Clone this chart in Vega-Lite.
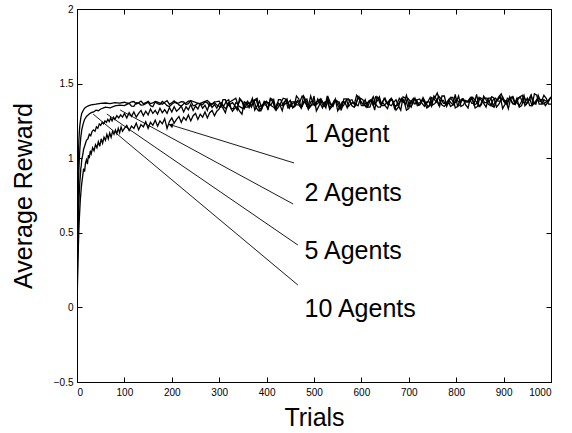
{
"$schema":"https://vega.github.io/schema/vega-lite/v6.json",
"width":474,"height":373,
"autosize":{"type":"none"},
"padding":{"left":77,"top":9,"right":21,"bottom":51},
"background":"white",
"config":{"view":{"stroke":"black","strokeWidth":1},"font":"Liberation Sans",
"axis":{"grid":false,"domainColor":"black","tickColor":"black","labelColor":"black","titleColor":"black","labelFontSize":10,"titleFontSize":25,"titleFontWeight":"normal","tickSize":-5,"domainWidth":1,"tickWidth":1}},
"datasets":{
"curves":[
{"a":"10","t":0,"r":0},{"a":"10","t":1,"r":0.5},{"a":"10","t":2,"r":0.85},{"a":"10","t":3,"r":1.02},{"a":"10","t":4,"r":1.12},{"a":"10","t":5,"r":1.18},{"a":"10","t":6,"r":1.22},{"a":"10","t":8,"r":1.27},{"a":"10","t":10,"r":1.3},{"a":"10","t":13,"r":1.32},{"a":"10","t":16,"r":1.335},{"a":"10","t":20,"r":1.345},{"a":"10","t":25,"r":1.352},{"a":"10","t":30,"r":1.358},{"a":"10","t":40,"r":1.362},{"a":"10","t":50,"r":1.368},{"a":"10","t":60,"r":1.37},{"a":"10","t":70,"r":1.366},{"a":"10","t":80,"r":1.372},{"a":"10","t":90,"r":1.369},
{"a":"10","t":100,"r":1.375},{"a":"10","t":110,"r":1.368},{"a":"10","t":120,"r":1.38},{"a":"10","t":130,"r":1.371},{"a":"10","t":140,"r":1.365},{"a":"10","t":150,"r":1.382},{"a":"10","t":160,"r":1.37},{"a":"10","t":170,"r":1.376},{"a":"10","t":180,"r":1.362},{"a":"10","t":190,"r":1.385},{"a":"10","t":200,"r":1.372},{"a":"10","t":210,"r":1.368},{"a":"10","t":220,"r":1.379},{"a":"10","t":230,"r":1.36},{"a":"10","t":240,"r":1.386},{"a":"10","t":250,"r":1.374},{"a":"10","t":260,"r":1.366},{"a":"10","t":270,"r":1.381},{"a":"10","t":280,"r":1.37},{"a":"10","t":290,"r":1.377},
{"a":"10","t":105,"r":1.37},{"a":"10","t":115,"r":1.378},{"a":"10","t":125,"r":1.364},{"a":"10","t":135,"r":1.383},{"a":"10","t":145,"r":1.372},{"a":"10","t":155,"r":1.366},{"a":"10","t":165,"r":1.38},{"a":"10","t":175,"r":1.369},{"a":"10","t":185,"r":1.375},{"a":"10","t":195,"r":1.361},{"a":"10","t":205,"r":1.384},{"a":"10","t":215,"r":1.371},{"a":"10","t":225,"r":1.377},{"a":"10","t":235,"r":1.365},{"a":"10","t":245,"r":1.38},{"a":"10","t":255,"r":1.368},{"a":"10","t":265,"r":1.374},{"a":"10","t":275,"r":1.386},{"a":"10","t":285,"r":1.363},{"a":"10","t":295,"r":1.379},
{"a":"10","t":300,"r":1.382},{"a":"10","t":310,"r":1.352},{"a":"10","t":320,"r":1.392},{"a":"10","t":330,"r":1.332},{"a":"10","t":340,"r":1.362},{"a":"10","t":350,"r":1.372},{"a":"10","t":360,"r":1.342},{"a":"10","t":370,"r":1.402},{"a":"10","t":380,"r":1.352},{"a":"10","t":390,"r":1.332},{"a":"10","t":400,"r":1.382},{"a":"10","t":410,"r":1.362},{"a":"10","t":420,"r":1.322},{"a":"10","t":430,"r":1.372},{"a":"10","t":440,"r":1.397},{"a":"10","t":450,"r":1.347},{"a":"10","t":460,"r":1.377},{"a":"10","t":470,"r":1.357},{"a":"10","t":480,"r":1.387},{"a":"10","t":490,"r":1.337},{"a":"10","t":500,"r":1.417},{"a":"10","t":510,"r":1.347},{"a":"10","t":520,"r":1.367},{"a":"10","t":530,"r":1.387},{"a":"10","t":540,"r":1.357},{"a":"10","t":550,"r":1.317},{"a":"10","t":560,"r":1.377},{"a":"10","t":570,"r":1.397},{"a":"10","t":580,"r":1.352},{"a":"10","t":590,"r":1.382},{"a":"10","t":600,"r":1.372},{"a":"10","t":610,"r":1.342},{"a":"10","t":620,"r":1.392},{"a":"10","t":630,"r":1.412},{"a":"10","t":640,"r":1.362},{"a":"10","t":650,"r":1.352},{"a":"10","t":660,"r":1.382},{"a":"10","t":670,"r":1.332},{"a":"10","t":680,"r":1.402},{"a":"10","t":690,"r":1.372},{"a":"10","t":700,"r":1.362},{"a":"10","t":710,"r":1.392},{"a":"10","t":720,"r":1.357},{"a":"10","t":730,"r":1.407},{"a":"10","t":740,"r":1.347},{"a":"10","t":750,"r":1.387},{"a":"10","t":760,"r":1.437},{"a":"10","t":770,"r":1.357},{"a":"10","t":780,"r":1.367},{"a":"10","t":790,"r":1.397},{"a":"10","t":800,"r":1.377},{"a":"10","t":810,"r":1.347},{"a":"10","t":820,"r":1.387},{"a":"10","t":830,"r":1.397},{"a":"10","t":840,"r":1.337},{"a":"10","t":850,"r":1.407},{"a":"10","t":860,"r":1.372},{"a":"10","t":870,"r":1.382},{"a":"10","t":880,"r":1.402},{"a":"10","t":890,"r":1.362},{"a":"10","t":900,"r":1.392},{"a":"10","t":910,"r":1.332},{"a":"10","t":920,"r":1.412},{"a":"10","t":930,"r":1.392},{"a":"10","t":940,"r":1.372},{"a":"10","t":950,"r":1.402},{"a":"10","t":960,"r":1.352},{"a":"10","t":970,"r":1.422},{"a":"10","t":980,"r":1.362},{"a":"10","t":990,"r":1.382},{"a":"10","t":1000,"r":1.412},
{"a":"10","t":305,"r":1.352},{"a":"10","t":315,"r":1.382},{"a":"10","t":325,"r":1.332},{"a":"10","t":335,"r":1.372},{"a":"10","t":345,"r":1.392},{"a":"10","t":355,"r":1.342},{"a":"10","t":365,"r":1.362},{"a":"10","t":375,"r":1.322},{"a":"10","t":385,"r":1.382},{"a":"10","t":395,"r":1.372},{"a":"10","t":405,"r":1.352},{"a":"10","t":415,"r":1.392},{"a":"10","t":425,"r":1.342},{"a":"10","t":435,"r":1.402},{"a":"10","t":445,"r":1.337},{"a":"10","t":455,"r":1.367},{"a":"10","t":465,"r":1.377},{"a":"10","t":475,"r":1.347},{"a":"10","t":485,"r":1.397},{"a":"10","t":495,"r":1.357},{"a":"10","t":505,"r":1.317},{"a":"10","t":515,"r":1.387},{"a":"10","t":525,"r":1.377},{"a":"10","t":535,"r":1.357},{"a":"10","t":545,"r":1.397},{"a":"10","t":555,"r":1.347},{"a":"10","t":565,"r":1.367},{"a":"10","t":575,"r":1.387},{"a":"10","t":585,"r":1.342},{"a":"10","t":595,"r":1.412},{"a":"10","t":605,"r":1.362},{"a":"10","t":615,"r":1.382},{"a":"10","t":625,"r":1.352},{"a":"10","t":635,"r":1.402},{"a":"10","t":645,"r":1.372},{"a":"10","t":655,"r":1.332},{"a":"10","t":665,"r":1.392},{"a":"10","t":675,"r":1.362},{"a":"10","t":685,"r":1.382},{"a":"10","t":695,"r":1.422},{"a":"10","t":705,"r":1.342},{"a":"10","t":715,"r":1.392},{"a":"10","t":725,"r":1.367},{"a":"10","t":735,"r":1.377},{"a":"10","t":745,"r":1.357},{"a":"10","t":755,"r":1.407},{"a":"10","t":765,"r":1.387},{"a":"10","t":775,"r":1.347},{"a":"10","t":785,"r":1.397},{"a":"10","t":795,"r":1.367},{"a":"10","t":805,"r":1.417},{"a":"10","t":815,"r":1.357},{"a":"10","t":825,"r":1.377},{"a":"10","t":835,"r":1.387},{"a":"10","t":845,"r":1.347},{"a":"10","t":855,"r":1.397},{"a":"10","t":865,"r":1.372},{"a":"10","t":875,"r":1.412},{"a":"10","t":885,"r":1.342},{"a":"10","t":895,"r":1.392},{"a":"10","t":905,"r":1.382},{"a":"10","t":915,"r":1.402},{"a":"10","t":925,"r":1.362},{"a":"10","t":935,"r":1.412},{"a":"10","t":945,"r":1.372},{"a":"10","t":955,"r":1.352},{"a":"10","t":965,"r":1.432},{"a":"10","t":975,"r":1.362},{"a":"10","t":985,"r":1.392},{"a":"10","t":995,"r":1.382},
{"a":"5","t":0,"r":0},{"a":"5","t":1,"r":0.35},{"a":"5","t":2,"r":0.62},{"a":"5","t":3,"r":0.8},{"a":"5","t":4,"r":0.92},{"a":"5","t":5,"r":1.0},{"a":"5","t":6,"r":1.06},{"a":"5","t":8,"r":1.14},{"a":"5","t":10,"r":1.19},{"a":"5","t":13,"r":1.23},{"a":"5","t":16,"r":1.26},{"a":"5","t":20,"r":1.28},{"a":"5","t":25,"r":1.295},{"a":"5","t":30,"r":1.305},{"a":"5","t":35,"r":1.31},{"a":"5","t":40,"r":1.322},{"a":"5","t":45,"r":1.318},{"a":"5","t":50,"r":1.33},{"a":"5","t":55,"r":1.335},{"a":"5","t":60,"r":1.342},{"a":"5","t":70,"r":1.338},{"a":"5","t":80,"r":1.35},{"a":"5","t":90,"r":1.356},
{"a":"5","t":100,"r":1.352},{"a":"5","t":110,"r":1.368},{"a":"5","t":120,"r":1.347},{"a":"5","t":130,"r":1.37},{"a":"5","t":140,"r":1.358},{"a":"5","t":150,"r":1.375},{"a":"5","t":160,"r":1.345},{"a":"5","t":170,"r":1.366},{"a":"5","t":180,"r":1.38},{"a":"5","t":190,"r":1.352},{"a":"5","t":200,"r":1.362},{"a":"5","t":210,"r":1.374},{"a":"5","t":220,"r":1.348},{"a":"5","t":230,"r":1.37},{"a":"5","t":240,"r":1.384},{"a":"5","t":250,"r":1.355},{"a":"5","t":260,"r":1.366},{"a":"5","t":270,"r":1.378},{"a":"5","t":280,"r":1.35},{"a":"5","t":290,"r":1.372},
{"a":"5","t":105,"r":1.361},{"a":"5","t":115,"r":1.349},{"a":"5","t":125,"r":1.372},{"a":"5","t":135,"r":1.356},{"a":"5","t":145,"r":1.366},{"a":"5","t":155,"r":1.352},{"a":"5","t":165,"r":1.377},{"a":"5","t":175,"r":1.36},{"a":"5","t":185,"r":1.369},{"a":"5","t":195,"r":1.346},{"a":"5","t":205,"r":1.373},{"a":"5","t":215,"r":1.357},{"a":"5","t":225,"r":1.365},{"a":"5","t":235,"r":1.382},{"a":"5","t":245,"r":1.351},{"a":"5","t":255,"r":1.368},{"a":"5","t":265,"r":1.359},{"a":"5","t":275,"r":1.371},{"a":"5","t":285,"r":1.362},{"a":"5","t":295,"r":1.356},
{"a":"5","t":303,"r":1.342},{"a":"5","t":313,"r":1.392},{"a":"5","t":323,"r":1.362},{"a":"5","t":333,"r":1.352},{"a":"5","t":343,"r":1.402},{"a":"5","t":353,"r":1.332},{"a":"5","t":363,"r":1.372},{"a":"5","t":373,"r":1.382},{"a":"5","t":383,"r":1.342},{"a":"5","t":393,"r":1.362},{"a":"5","t":403,"r":1.322},{"a":"5","t":413,"r":1.392},{"a":"5","t":423,"r":1.372},{"a":"5","t":433,"r":1.352},{"a":"5","t":443,"r":1.387},{"a":"5","t":453,"r":1.347},{"a":"5","t":463,"r":1.417},{"a":"5","t":473,"r":1.337},{"a":"5","t":483,"r":1.367},{"a":"5","t":493,"r":1.377},{"a":"5","t":503,"r":1.357},{"a":"5","t":513,"r":1.397},{"a":"5","t":523,"r":1.347},{"a":"5","t":533,"r":1.327},{"a":"5","t":543,"r":1.387},{"a":"5","t":553,"r":1.377},{"a":"5","t":563,"r":1.357},{"a":"5","t":573,"r":1.397},{"a":"5","t":583,"r":1.372},{"a":"5","t":593,"r":1.352},{"a":"5","t":603,"r":1.392},{"a":"5","t":613,"r":1.342},{"a":"5","t":623,"r":1.382},{"a":"5","t":633,"r":1.412},{"a":"5","t":643,"r":1.362},{"a":"5","t":653,"r":1.372},{"a":"5","t":663,"r":1.352},{"a":"5","t":673,"r":1.392},{"a":"5","t":683,"r":1.322},{"a":"5","t":693,"r":1.402},{"a":"5","t":703,"r":1.382},{"a":"5","t":713,"r":1.362},{"a":"5","t":723,"r":1.397},{"a":"5","t":733,"r":1.347},{"a":"5","t":743,"r":1.377},{"a":"5","t":753,"r":1.417},{"a":"5","t":763,"r":1.357},{"a":"5","t":773,"r":1.387},{"a":"5","t":783,"r":1.367},{"a":"5","t":793,"r":1.407},{"a":"5","t":803,"r":1.347},{"a":"5","t":813,"r":1.397},{"a":"5","t":823,"r":1.377},{"a":"5","t":833,"r":1.367},{"a":"5","t":843,"r":1.427},{"a":"5","t":853,"r":1.357},{"a":"5","t":863,"r":1.392},{"a":"5","t":873,"r":1.352},{"a":"5","t":883,"r":1.402},{"a":"5","t":893,"r":1.382},{"a":"5","t":903,"r":1.372},{"a":"5","t":913,"r":1.412},{"a":"5","t":923,"r":1.362},{"a":"5","t":933,"r":1.342},{"a":"5","t":943,"r":1.402},{"a":"5","t":953,"r":1.392},{"a":"5","t":963,"r":1.372},{"a":"5","t":973,"r":1.422},{"a":"5","t":983,"r":1.362},{"a":"5","t":993,"r":1.382},{"a":"5","t":1000,"r":1.402},
{"a":"5","t":308,"r":1.392},{"a":"5","t":318,"r":1.352},{"a":"5","t":328,"r":1.372},{"a":"5","t":338,"r":1.322},{"a":"5","t":348,"r":1.382},{"a":"5","t":358,"r":1.362},{"a":"5","t":368,"r":1.342},{"a":"5","t":378,"r":1.392},{"a":"5","t":388,"r":1.352},{"a":"5","t":398,"r":1.372},{"a":"5","t":408,"r":1.402},{"a":"5","t":418,"r":1.332},{"a":"5","t":428,"r":1.362},{"a":"5","t":438,"r":1.382},{"a":"5","t":448,"r":1.357},{"a":"5","t":458,"r":1.347},{"a":"5","t":468,"r":1.397},{"a":"5","t":478,"r":1.377},{"a":"5","t":488,"r":1.327},{"a":"5","t":498,"r":1.387},{"a":"5","t":508,"r":1.367},{"a":"5","t":518,"r":1.357},{"a":"5","t":528,"r":1.417},{"a":"5","t":538,"r":1.347},{"a":"5","t":548,"r":1.377},{"a":"5","t":558,"r":1.337},{"a":"5","t":568,"r":1.387},{"a":"5","t":578,"r":1.367},{"a":"5","t":588,"r":1.362},{"a":"5","t":598,"r":1.402},{"a":"5","t":608,"r":1.352},{"a":"5","t":618,"r":1.382},{"a":"5","t":628,"r":1.322},{"a":"5","t":638,"r":1.392},{"a":"5","t":648,"r":1.402},{"a":"5","t":658,"r":1.362},{"a":"5","t":668,"r":1.372},{"a":"5","t":678,"r":1.352},{"a":"5","t":688,"r":1.412},{"a":"5","t":698,"r":1.342},{"a":"5","t":708,"r":1.382},{"a":"5","t":718,"r":1.392},{"a":"5","t":728,"r":1.367},{"a":"5","t":738,"r":1.377},{"a":"5","t":748,"r":1.347},{"a":"5","t":758,"r":1.397},{"a":"5","t":768,"r":1.387},{"a":"5","t":778,"r":1.357},{"a":"5","t":788,"r":1.407},{"a":"5","t":798,"r":1.337},{"a":"5","t":808,"r":1.387},{"a":"5","t":818,"r":1.377},{"a":"5","t":828,"r":1.397},{"a":"5","t":838,"r":1.367},{"a":"5","t":848,"r":1.347},{"a":"5","t":858,"r":1.417},{"a":"5","t":868,"r":1.362},{"a":"5","t":878,"r":1.392},{"a":"5","t":888,"r":1.382},{"a":"5","t":898,"r":1.412},{"a":"5","t":908,"r":1.362},{"a":"5","t":918,"r":1.372},{"a":"5","t":928,"r":1.402},{"a":"5","t":938,"r":1.352},{"a":"5","t":948,"r":1.392},{"a":"5","t":958,"r":1.422},{"a":"5","t":968,"r":1.362},{"a":"5","t":978,"r":1.382},{"a":"5","t":988,"r":1.372},{"a":"5","t":998,"r":1.402},
{"a":"2","t":0,"r":0},{"a":"2","t":1,"r":0.25},{"a":"2","t":2,"r":0.45},{"a":"2","t":3,"r":0.6},{"a":"2","t":4,"r":0.7},{"a":"2","t":5,"r":0.78},{"a":"2","t":6,"r":0.84},{"a":"2","t":7,"r":0.88},{"a":"2","t":8,"r":0.93},{"a":"2","t":9,"r":0.95},{"a":"2","t":10,"r":0.99},{"a":"2","t":12,"r":1.02},{"a":"2","t":14,"r":1.06},{"a":"2","t":16,"r":1.08},{"a":"2","t":18,"r":1.1},{"a":"2","t":20,"r":1.12},{"a":"2","t":23,"r":1.13},{"a":"2","t":26,"r":1.16},{"a":"2","t":29,"r":1.15},{"a":"2","t":32,"r":1.18},{"a":"2","t":35,"r":1.19},{"a":"2","t":38,"r":1.18},{"a":"2","t":41,"r":1.21},{"a":"2","t":44,"r":1.2},{"a":"2","t":47,"r":1.23},{"a":"2","t":50,"r":1.22},{"a":"2","t":53,"r":1.24},{"a":"2","t":56,"r":1.23},{"a":"2","t":59,"r":1.25},{"a":"2","t":62,"r":1.24},{"a":"2","t":65,"r":1.26},{"a":"2","t":68,"r":1.245},{"a":"2","t":71,"r":1.27},{"a":"2","t":74,"r":1.25},{"a":"2","t":77,"r":1.275},{"a":"2","t":80,"r":1.26},{"a":"2","t":84,"r":1.285},{"a":"2","t":88,"r":1.27},{"a":"2","t":92,"r":1.29},{"a":"2","t":96,"r":1.275},{"a":"2","t":100,"r":1.3},
{"a":"2","t":105,"r":1.27},{"a":"2","t":110,"r":1.305},{"a":"2","t":115,"r":1.28},{"a":"2","t":120,"r":1.31},{"a":"2","t":125,"r":1.275},{"a":"2","t":130,"r":1.3},{"a":"2","t":135,"r":1.32},{"a":"2","t":140,"r":1.285},{"a":"2","t":145,"r":1.315},{"a":"2","t":150,"r":1.29},{"a":"2","t":155,"r":1.33},{"a":"2","t":160,"r":1.3},{"a":"2","t":165,"r":1.32},{"a":"2","t":170,"r":1.295},{"a":"2","t":175,"r":1.335},{"a":"2","t":180,"r":1.305},{"a":"2","t":185,"r":1.325},{"a":"2","t":190,"r":1.3},{"a":"2","t":195,"r":1.34},{"a":"2","t":200,"r":1.31},{"a":"2","t":205,"r":1.345},{"a":"2","t":210,"r":1.315},{"a":"2","t":215,"r":1.33},{"a":"2","t":220,"r":1.35},{"a":"2","t":225,"r":1.31},{"a":"2","t":230,"r":1.345},{"a":"2","t":235,"r":1.325},{"a":"2","t":240,"r":1.36},{"a":"2","t":245,"r":1.32},{"a":"2","t":250,"r":1.35},{"a":"2","t":255,"r":1.33},{"a":"2","t":260,"r":1.365},{"a":"2","t":265,"r":1.335},{"a":"2","t":270,"r":1.355},{"a":"2","t":275,"r":1.32},{"a":"2","t":280,"r":1.37},{"a":"2","t":285,"r":1.34},{"a":"2","t":290,"r":1.36},{"a":"2","t":295,"r":1.335},{"a":"2","t":300,"r":1.365},
{"a":"2","t":305,"r":1.372},{"a":"2","t":315,"r":1.332},{"a":"2","t":325,"r":1.382},{"a":"2","t":335,"r":1.402},{"a":"2","t":345,"r":1.342},{"a":"2","t":355,"r":1.362},{"a":"2","t":365,"r":1.352},{"a":"2","t":375,"r":1.392},{"a":"2","t":385,"r":1.322},{"a":"2","t":395,"r":1.382},{"a":"2","t":405,"r":1.372},{"a":"2","t":415,"r":1.342},{"a":"2","t":425,"r":1.392},{"a":"2","t":435,"r":1.352},{"a":"2","t":445,"r":1.367},{"a":"2","t":455,"r":1.337},{"a":"2","t":465,"r":1.387},{"a":"2","t":475,"r":1.417},{"a":"2","t":485,"r":1.347},{"a":"2","t":495,"r":1.357},{"a":"2","t":505,"r":1.377},{"a":"2","t":515,"r":1.397},{"a":"2","t":525,"r":1.337},{"a":"2","t":535,"r":1.367},{"a":"2","t":545,"r":1.387},{"a":"2","t":555,"r":1.327},{"a":"2","t":565,"r":1.377},{"a":"2","t":575,"r":1.387},{"a":"2","t":585,"r":1.362},{"a":"2","t":595,"r":1.402},{"a":"2","t":605,"r":1.352},{"a":"2","t":615,"r":1.372},{"a":"2","t":625,"r":1.412},{"a":"2","t":635,"r":1.342},{"a":"2","t":645,"r":1.382},{"a":"2","t":655,"r":1.362},{"a":"2","t":665,"r":1.392},{"a":"2","t":675,"r":1.352},{"a":"2","t":685,"r":1.402},{"a":"2","t":695,"r":1.322},{"a":"2","t":705,"r":1.382},{"a":"2","t":715,"r":1.392},{"a":"2","t":725,"r":1.377},{"a":"2","t":735,"r":1.357},{"a":"2","t":745,"r":1.407},{"a":"2","t":755,"r":1.367},{"a":"2","t":765,"r":1.347},{"a":"2","t":775,"r":1.417},{"a":"2","t":785,"r":1.387},{"a":"2","t":795,"r":1.357},{"a":"2","t":805,"r":1.377},{"a":"2","t":815,"r":1.397},{"a":"2","t":825,"r":1.337},{"a":"2","t":835,"r":1.407},{"a":"2","t":845,"r":1.367},{"a":"2","t":855,"r":1.387},{"a":"2","t":865,"r":1.402},{"a":"2","t":875,"r":1.352},{"a":"2","t":885,"r":1.382},{"a":"2","t":895,"r":1.432},{"a":"2","t":905,"r":1.362},{"a":"2","t":915,"r":1.392},{"a":"2","t":925,"r":1.372},{"a":"2","t":935,"r":1.412},{"a":"2","t":945,"r":1.352},{"a":"2","t":955,"r":1.402},{"a":"2","t":965,"r":1.372},{"a":"2","t":975,"r":1.382},{"a":"2","t":985,"r":1.422},{"a":"2","t":995,"r":1.362},
{"a":"2","t":310,"r":1.342},{"a":"2","t":320,"r":1.372},{"a":"2","t":330,"r":1.392},{"a":"2","t":340,"r":1.352},{"a":"2","t":350,"r":1.332},{"a":"2","t":360,"r":1.382},{"a":"2","t":370,"r":1.362},{"a":"2","t":380,"r":1.402},{"a":"2","t":390,"r":1.342},{"a":"2","t":400,"r":1.372},{"a":"2","t":410,"r":1.352},{"a":"2","t":420,"r":1.322},{"a":"2","t":430,"r":1.392},{"a":"2","t":440,"r":1.367},{"a":"2","t":450,"r":1.387},{"a":"2","t":460,"r":1.347},{"a":"2","t":470,"r":1.377},{"a":"2","t":480,"r":1.397},{"a":"2","t":490,"r":1.337},{"a":"2","t":500,"r":1.357},{"a":"2","t":510,"r":1.387},{"a":"2","t":520,"r":1.367},{"a":"2","t":530,"r":1.407},{"a":"2","t":540,"r":1.347},{"a":"2","t":550,"r":1.357},{"a":"2","t":560,"r":1.377},{"a":"2","t":570,"r":1.337},{"a":"2","t":580,"r":1.392},{"a":"2","t":590,"r":1.422},{"a":"2","t":600,"r":1.352},{"a":"2","t":610,"r":1.372},{"a":"2","t":620,"r":1.382},{"a":"2","t":630,"r":1.362},{"a":"2","t":640,"r":1.342},{"a":"2","t":650,"r":1.402},{"a":"2","t":660,"r":1.392},{"a":"2","t":670,"r":1.352},{"a":"2","t":680,"r":1.372},{"a":"2","t":690,"r":1.382},{"a":"2","t":700,"r":1.332},{"a":"2","t":710,"r":1.402},{"a":"2","t":720,"r":1.367},{"a":"2","t":730,"r":1.397},{"a":"2","t":740,"r":1.377},{"a":"2","t":750,"r":1.357},{"a":"2","t":760,"r":1.387},{"a":"2","t":770,"r":1.417},{"a":"2","t":780,"r":1.347},{"a":"2","t":790,"r":1.367},{"a":"2","t":800,"r":1.397},{"a":"2","t":810,"r":1.377},{"a":"2","t":820,"r":1.357},{"a":"2","t":830,"r":1.407},{"a":"2","t":840,"r":1.387},{"a":"2","t":850,"r":1.347},{"a":"2","t":860,"r":1.402},{"a":"2","t":870,"r":1.372},{"a":"2","t":880,"r":1.342},{"a":"2","t":890,"r":1.412},{"a":"2","t":900,"r":1.382},{"a":"2","t":910,"r":1.392},{"a":"2","t":920,"r":1.362},{"a":"2","t":930,"r":1.402},{"a":"2","t":940,"r":1.422},{"a":"2","t":950,"r":1.372},{"a":"2","t":960,"r":1.352},{"a":"2","t":970,"r":1.392},{"a":"2","t":980,"r":1.382},{"a":"2","t":990,"r":1.402},{"a":"2","t":1000,"r":1.362},
{"a":"1","t":0,"r":0},{"a":"1","t":1,"r":0.15},{"a":"1","t":2,"r":0.3},{"a":"1","t":3,"r":0.42},{"a":"1","t":4,"r":0.52},{"a":"1","t":5,"r":0.6},{"a":"1","t":6,"r":0.66},{"a":"1","t":7,"r":0.72},{"a":"1","t":8,"r":0.76},{"a":"1","t":9,"r":0.8},{"a":"1","t":10,"r":0.83},{"a":"1","t":12,"r":0.88},{"a":"1","t":14,"r":0.93},{"a":"1","t":16,"r":0.91},{"a":"1","t":18,"r":0.97},{"a":"1","t":20,"r":0.99},{"a":"1","t":22,"r":0.96},{"a":"1","t":24,"r":1.02},{"a":"1","t":26,"r":1.0},{"a":"1","t":28,"r":1.05},{"a":"1","t":30,"r":1.03},{"a":"1","t":33,"r":1.07},{"a":"1","t":36,"r":1.05},{"a":"1","t":39,"r":1.09},{"a":"1","t":42,"r":1.07},{"a":"1","t":45,"r":1.11},{"a":"1","t":48,"r":1.08},{"a":"1","t":51,"r":1.13},{"a":"1","t":54,"r":1.1},{"a":"1","t":57,"r":1.14},{"a":"1","t":60,"r":1.12},{"a":"1","t":63,"r":1.16},{"a":"1","t":66,"r":1.13},{"a":"1","t":69,"r":1.17},{"a":"1","t":72,"r":1.14},{"a":"1","t":75,"r":1.18},{"a":"1","t":78,"r":1.16},{"a":"1","t":81,"r":1.19},{"a":"1","t":84,"r":1.165},{"a":"1","t":87,"r":1.2},{"a":"1","t":90,"r":1.17},{"a":"1","t":93,"r":1.21},{"a":"1","t":96,"r":1.18},{"a":"1","t":100,"r":1.2},
{"a":"1","t":105,"r":1.22},{"a":"1","t":110,"r":1.185},{"a":"1","t":115,"r":1.215},{"a":"1","t":120,"r":1.2},{"a":"1","t":125,"r":1.235},{"a":"1","t":130,"r":1.19},{"a":"1","t":135,"r":1.225},{"a":"1","t":140,"r":1.21},{"a":"1","t":145,"r":1.245},{"a":"1","t":150,"r":1.2},{"a":"1","t":155,"r":1.24},{"a":"1","t":160,"r":1.22},{"a":"1","t":165,"r":1.255},{"a":"1","t":170,"r":1.215},{"a":"1","t":175,"r":1.25},{"a":"1","t":180,"r":1.23},{"a":"1","t":185,"r":1.265},{"a":"1","t":190,"r":1.2},{"a":"1","t":195,"r":1.245},{"a":"1","t":200,"r":1.27},{"a":"1","t":205,"r":1.235},{"a":"1","t":210,"r":1.26},{"a":"1","t":215,"r":1.28},{"a":"1","t":220,"r":1.24},{"a":"1","t":225,"r":1.275},{"a":"1","t":230,"r":1.255},{"a":"1","t":235,"r":1.29},{"a":"1","t":240,"r":1.25},{"a":"1","t":245,"r":1.285},{"a":"1","t":250,"r":1.3},{"a":"1","t":255,"r":1.26},{"a":"1","t":260,"r":1.295},{"a":"1","t":265,"r":1.275},{"a":"1","t":270,"r":1.31},{"a":"1","t":275,"r":1.27},{"a":"1","t":280,"r":1.305},{"a":"1","t":285,"r":1.32},{"a":"1","t":290,"r":1.285},{"a":"1","t":295,"r":1.315},{"a":"1","t":300,"r":1.33},
{"a":"1","t":308,"r":1.335},{"a":"1","t":318,"r":1.365},{"a":"1","t":328,"r":1.315},{"a":"1","t":338,"r":1.345},{"a":"1","t":348,"r":1.295},{"a":"1","t":358,"r":1.368},{"a":"1","t":368,"r":1.378},{"a":"1","t":378,"r":1.338},{"a":"1","t":388,"r":1.318},{"a":"1","t":398,"r":1.358},{"a":"1","t":408,"r":1.398},{"a":"1","t":418,"r":1.338},{"a":"1","t":428,"r":1.358},{"a":"1","t":438,"r":1.378},{"a":"1","t":448,"r":1.337},{"a":"1","t":458,"r":1.377},{"a":"1","t":468,"r":1.357},{"a":"1","t":478,"r":1.417},{"a":"1","t":488,"r":1.347},{"a":"1","t":498,"r":1.367},{"a":"1","t":508,"r":1.397},{"a":"1","t":518,"r":1.337},{"a":"1","t":528,"r":1.377},{"a":"1","t":538,"r":1.357},{"a":"1","t":548,"r":1.387},{"a":"1","t":558,"r":1.327},{"a":"1","t":568,"r":1.397},{"a":"1","t":578,"r":1.367},{"a":"1","t":588,"r":1.352},{"a":"1","t":598,"r":1.382},{"a":"1","t":608,"r":1.392},{"a":"1","t":618,"r":1.342},{"a":"1","t":628,"r":1.362},{"a":"1","t":638,"r":1.412},{"a":"1","t":648,"r":1.352},{"a":"1","t":658,"r":1.382},{"a":"1","t":668,"r":1.372},{"a":"1","t":678,"r":1.342},{"a":"1","t":688,"r":1.392},{"a":"1","t":698,"r":1.402},{"a":"1","t":708,"r":1.362},{"a":"1","t":718,"r":1.352},{"a":"1","t":728,"r":1.387},{"a":"1","t":738,"r":1.337},{"a":"1","t":748,"r":1.407},{"a":"1","t":758,"r":1.377},{"a":"1","t":768,"r":1.397},{"a":"1","t":778,"r":1.367},{"a":"1","t":788,"r":1.347},{"a":"1","t":798,"r":1.427},{"a":"1","t":808,"r":1.357},{"a":"1","t":818,"r":1.387},{"a":"1","t":828,"r":1.377},{"a":"1","t":838,"r":1.357},{"a":"1","t":848,"r":1.407},{"a":"1","t":858,"r":1.367},{"a":"1","t":868,"r":1.402},{"a":"1","t":878,"r":1.352},{"a":"1","t":888,"r":1.392},{"a":"1","t":898,"r":1.332},{"a":"1","t":908,"r":1.402},{"a":"1","t":918,"r":1.412},{"a":"1","t":928,"r":1.372},{"a":"1","t":938,"r":1.382},{"a":"1","t":948,"r":1.362},{"a":"1","t":958,"r":1.422},{"a":"1","t":968,"r":1.372},{"a":"1","t":978,"r":1.392},{"a":"1","t":988,"r":1.352},{"a":"1","t":998,"r":1.402},
{"a":"1","t":303,"r":1.355},{"a":"1","t":313,"r":1.305},{"a":"1","t":323,"r":1.345},{"a":"1","t":333,"r":1.335},{"a":"1","t":343,"r":1.315},{"a":"1","t":353,"r":1.378},{"a":"1","t":363,"r":1.338},{"a":"1","t":373,"r":1.388},{"a":"1","t":383,"r":1.318},{"a":"1","t":393,"r":1.358},{"a":"1","t":403,"r":1.338},{"a":"1","t":413,"r":1.378},{"a":"1","t":423,"r":1.358},{"a":"1","t":433,"r":1.318},{"a":"1","t":443,"r":1.397},{"a":"1","t":453,"r":1.377},{"a":"1","t":463,"r":1.357},{"a":"1","t":473,"r":1.337},{"a":"1","t":483,"r":1.387},{"a":"1","t":493,"r":1.417},{"a":"1","t":503,"r":1.347},{"a":"1","t":513,"r":1.367},{"a":"1","t":523,"r":1.377},{"a":"1","t":533,"r":1.337},{"a":"1","t":543,"r":1.387},{"a":"1","t":553,"r":1.357},{"a":"1","t":563,"r":1.397},{"a":"1","t":573,"r":1.347},{"a":"1","t":583,"r":1.372},{"a":"1","t":593,"r":1.412},{"a":"1","t":603,"r":1.362},{"a":"1","t":613,"r":1.342},{"a":"1","t":623,"r":1.392},{"a":"1","t":633,"r":1.382},{"a":"1","t":643,"r":1.352},{"a":"1","t":653,"r":1.372},{"a":"1","t":663,"r":1.402},{"a":"1","t":673,"r":1.322},{"a":"1","t":683,"r":1.392},{"a":"1","t":693,"r":1.362},{"a":"1","t":703,"r":1.382},{"a":"1","t":713,"r":1.402},{"a":"1","t":723,"r":1.357},{"a":"1","t":733,"r":1.377},{"a":"1","t":743,"r":1.347},{"a":"1","t":753,"r":1.397},{"a":"1","t":763,"r":1.417},{"a":"1","t":773,"r":1.367},{"a":"1","t":783,"r":1.387},{"a":"1","t":793,"r":1.357},{"a":"1","t":803,"r":1.347},{"a":"1","t":813,"r":1.397},{"a":"1","t":823,"r":1.377},{"a":"1","t":833,"r":1.407},{"a":"1","t":843,"r":1.367},{"a":"1","t":853,"r":1.387},{"a":"1","t":863,"r":1.342},{"a":"1","t":873,"r":1.402},{"a":"1","t":883,"r":1.382},{"a":"1","t":893,"r":1.412},{"a":"1","t":903,"r":1.362},{"a":"1","t":913,"r":1.392},{"a":"1","t":923,"r":1.372},{"a":"1","t":933,"r":1.352},{"a":"1","t":943,"r":1.422},{"a":"1","t":953,"r":1.382},{"a":"1","t":963,"r":1.362},{"a":"1","t":973,"r":1.402},{"a":"1","t":983,"r":1.392},{"a":"1","t":993,"r":1.372}
],
"arrows":[
{"label":"1 Agent","hx":192,"hy":1.229,"tx":458,"ty":0.968,"lx":480,"ly":1.109},
{"label":"2 Agents","hx":91,"hy":1.323,"tx":456,"ty":0.693,"lx":480,"ly":0.713},
{"label":"5 Agents","hx":63,"hy":1.296,"tx":466,"ty":0.418,"lx":480,"ly":0.324},
{"label":"10 Agents","hx":34,"hy":1.296,"tx":466,"ty":0.15,"lx":480,"ly":-0.065}
]
},
"layer":[
{"data":{"name":"curves"},"mark":{"type":"line","color":"black","strokeWidth":1.3,"clip":true},
"encoding":{
"x":{"field":"t","type":"quantitative","scale":{"domain":[0,1000],"nice":false},"axis":{"orient":"bottom","values":[0,100,200,300,400,500,600,700,800,900,1000],"format":"d","title":"Trials","labelPadding":10,"titlePadding":8}},
"y":{"field":"r","type":"quantitative","scale":{"domain":[-0.5,2],"nice":false,"zero":false},"axis":{"orient":"left","values":[-0.5,0,0.5,1,1.5,2],"format":"~g","title":"Average Reward","labelPadding":9,"titlePadding":17}},
"detail":{"field":"a"}}},
{"data":{"name":"arrows"},"mark":{"type":"rule","color":"black","strokeWidth":0.9},
"encoding":{
"x":{"field":"hx","type":"quantitative","axis":{"orient":"top","values":[0,100,200,300,400,500,600,700,800,900,1000],"labels":false,"title":null}},
"y":{"field":"hy","type":"quantitative","axis":{"orient":"right","values":[-0.5,0,0.5,1,1.5,2],"labels":false,"title":null}},
"x2":{"field":"tx"},"y2":{"field":"ty"}}},
{"data":{"name":"arrows"},"transform":[{"filter":"datum.label === '1 Agent'"}],"mark":{"type":"point","shape":"triangle-up","filled":true,"color":"black","opacity":1,"size":28,"angle":287},
"encoding":{"x":{"datum":198,"type":"quantitative","axis":null},"y":{"datum":1.222,"type":"quantitative","axis":null}}},
{"data":{"name":"arrows"},"mark":{"type":"text","align":"left","baseline":"alphabetic","fontSize":25,"color":"black"},
"encoding":{"x":{"field":"lx","type":"quantitative","axis":null},"y":{"field":"ly","type":"quantitative","axis":null},"text":{"field":"label"}}}
],
"resolve":{"axis":{"x":"independent","y":"independent"}}
}
